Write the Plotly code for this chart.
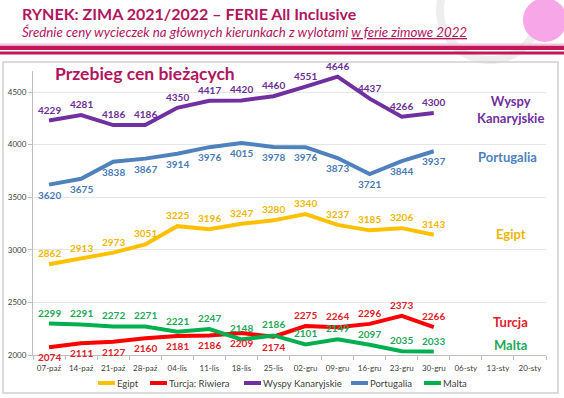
import plotly.graph_objects as go

categories = ["07-paź", "14-paź", "21-paź", "28-paź", "04-lis", "11-lis", "18-lis", "25-lis",
              "02-gru", "09-gru", "16-gru", "23-gru", "30-gru", "06-sty", "13-sty", "20-sty"]

egipt = [2862, 2913, 2973, 3051, 3225, 3196, 3247, 3280, 3340, 3237, 3185, 3206, 3143]
turcja = [2074, 2111, 2127, 2160, 2181, 2186, 2209, 2174, 2275, 2264, 2296, 2373, 2266]
wyspy = [4229, 4281, 4186, 4186, 4350, 4417, 4420, 4460, 4551, 4646, 4437, 4266, 4300]
portugalia = [3620, 3675, 3838, 3867, 3914, 3976, 4015, 3978, 3976, 3873, 3721, 3844, 3937]
malta = [2299, 2291, 2272, 2271, 2221, 2247, 2148, 2186, 2101, 2149, 2097, 2035, 2033]

y_ticks = [2000, 2500, 3000, 3500, 4000, 4500]

FONT = "Lato"
MAG = "#B0165E"

# plot area in page pixels
L, R, T, B = 33, 546, 71, 355


def px(p):
    return (p - L) / (R - L)


def py(p):
    return (B - p) / (B - T)


# (name, values, line colour, label colour, label side per point: +1 above, -1 below, legend x)
series = [
    ("Egipt", egipt, "#FFC000", "#F2B600", [1] * 13, 98),
    ("Turcja: Riwiera", turcja, "#FF0000", "#E0202A", [-1] * 8 + [1] * 5, 150),
    ("Wyspy Kanaryjskie", wyspy, "#7030A0", "#6A2E96", [1] * 13, 244),
    ("Portugalia", portugalia, "#4F81BD", "#4A7AB5", [-1] * 13, 351),
    ("Malta", malta, "#00B050", "#1FA85A", [1] * 13, 424),
]

fig = go.Figure()
n = len(egipt)
annotations = []
shapes = []
for name, vals, col, tcol, side, lx in series:
    xs = categories[:n]
    fig.add_trace(go.Scatter(
        x=xs, y=vals, name=name, mode="lines",
        line=dict(color=col, width=4), showlegend=False,
    ))
    for xv, yv, s in zip(xs, vals, side):
        annotations.append(dict(x=xv, y=yv, xref="x", yref="y", text=str(yv), showarrow=False,
                                yshift=11 * s if s > 0 else -10,
                                font=dict(family=FONT, size=10, color=tcol, weight="bold")))
    # legend entry
    shapes.append(dict(type="line", xref="paper", yref="paper", x0=px(lx), x1=px(lx + 17),
                       y0=py(383), y1=py(383), line=dict(color=col, width=4)))
    annotations.append(dict(text=name, xref="paper", yref="paper", x=px(lx + 17), y=py(383),
                            xanchor="left", yanchor="middle", showarrow=False,
                            font=dict(family=FONT, size=9.5, color="#404040")))

names = [
    ("Wyspy<br>Kanaryjskie", 14.4, 4330, "#7030A0"),
    ("Portugalia", 14.3, 3885, "#4F81BD"),
    ("Egipt", 14.4, 3150, "#F2B600"),
    ("Turcja", 14.4, 2315, "#E0202A"),
    ("Malta", 14.4, 2095, "#1FA85A"),
]
for txt, x, y, c in names:
    annotations.append(dict(x=x, y=y, xref="x", yref="y", text=txt, showarrow=False,
                            font=dict(family=FONT, size=13, color=c, weight="bold")))

annotations.append(dict(text="RYNEK: ZIMA 2021/2022 – FERIE All Inclusive",
                        xref="paper", yref="paper", x=px(20), y=py(14), xanchor="left", yanchor="middle",
                        showarrow=False, font=dict(family=FONT, size=16, color=MAG, weight="bold")))
annotations.append(dict(text="<i>Średnie ceny wycieczek na głównych kierunkach z wylotami <u>w ferie zimowe 2022</u></i>",
                        xref="paper", yref="paper", x=px(20), y=py(32), xanchor="left", yanchor="middle",
                        showarrow=False, font=dict(family=FONT, size=13.3, color=MAG)))
annotations.append(dict(text="Przebieg cen bieżących",
                        xref="paper", yref="paper", x=px(145), y=py(73), xanchor="center", yanchor="middle",
                        showarrow=False, font=dict(family=FONT, size=17.5, color=MAG, weight="bold")))

# faint decorative ring and globe
shapes.append(dict(type="circle", xref="paper", yref="paper", x0=px(440), x1=px(540), y0=py(60), y1=py(-40),
                   fillcolor="rgba(0,0,0,0)", line=dict(color="#EEEEEE", width=8), layer="below"))
shapes.append(dict(type="circle", xref="paper", yref="paper", x0=px(523), x1=px(567), y0=py(42), y1=py(-2),
                   fillcolor="#F7A6E8", line=dict(width=0), layer="below"))
# stripes
shapes.append(dict(type="rect", xref="paper", yref="paper", x0=px(0), x1=px(564), y0=py(50), y1=py(45.5),
                   fillcolor="#C2185B", line=dict(width=0)))
shapes.append(dict(type="rect", xref="paper", yref="paper", x0=px(0), x1=px(564), y0=py(54.5), y1=py(51.5),
                   fillcolor="#C2185B", line=dict(width=0)))
shapes.append(dict(type="rect", xref="paper", yref="paper", x0=px(0), x1=px(564), y0=py(45.5), y1=py(43.5),
                   fillcolor="#F3C4DA", line=dict(width=0)))
# chart box
shapes.append(dict(type="rect", xref="paper", yref="paper", x0=px(3), x1=px(558), y0=py(393), y1=py(62),
                   fillcolor="rgba(0,0,0,0)", line=dict(color="#D0D0D0", width=1.5)))

fig.update_layout(
    width=564, height=398,
    margin=dict(l=L, r=564 - R, t=T, b=398 - B, autoexpand=False),
    paper_bgcolor="white", plot_bgcolor="white",
    font=dict(family=FONT, color="#404040"),
    showlegend=False,
    annotations=annotations, shapes=shapes,
    xaxis=dict(type="category", categoryorder="array", categoryarray=categories,
               range=[-0.5, 15.5], showgrid=False, showline=True, linecolor="#BFBFBF",
               ticks="outside", tickson="boundaries", ticklen=4, tickcolor="#BFBFBF",
               tickangle=0, automargin=False, ticklabelstandoff=5,
               tickfont=dict(family=FONT, size=8, color="#404040")),
    yaxis=dict(range=[2000, 4700], tickvals=y_ticks, showgrid=True, gridcolor="#E6E6E6",
               showline=True, linecolor="#BFBFBF", ticks="outside", ticklen=4, tickcolor="#BFBFBF",
               automargin=False,
               tickfont=dict(family=FONT, size=8, color="#404040"), zeroline=False),
)

fig.write_html("out.html", config={"displayModeBar": False},
               post_script="document.body.style.margin='0';document.body.style.overflow='hidden';")
